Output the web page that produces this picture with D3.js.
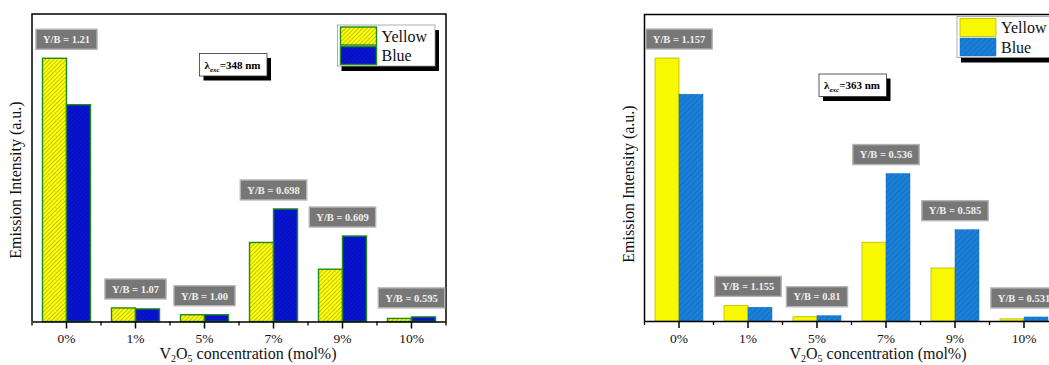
<!DOCTYPE html>
<html>
<head>
<meta charset="utf-8">
<script src="https://cdn.jsdelivr.net/npm/d3@7"></script>
<style>
  html, body { margin: 0; padding: 0; background: #fff; }
  svg text { font-family: "Liberation Serif", "Times New Roman", serif !important; }
</style>
</head>
<body>
<svg id="chart" width="1049" height="365"></svg>
<script>
// Dopant concentrations shared by both panels
const categories = ["0%", "1%", "5%", "7%", "9%", "10%"];
const seriesNames = ["Yellow", "Blue"];

// Panel A: excitation at 348 nm (emission intensity, arbitrary units)
const yellowA = [85.6, 4.4, 2.2, 25.7, 17.0, 1.0];
const blueA   = [70.5, 4.1, 2.2, 36.6, 27.8, 1.5];
const ratioA  = ["1.21", "1.07", "1.00", "0.698", "0.609", "0.595"];

// Panel B: excitation at 363 nm
const yellowB = [85.8, 5.1, 1.4, 25.7, 17.3, 0.7];
const blueB   = [74.0, 4.5, 1.73, 48.1, 29.8, 1.32];
const ratioB  = ["1.157", "1.155", "0.81", "0.536", "0.585", "0.531"];

const excA = "348";
const excB = "363";

const SERIF = "'Liberation Serif', 'Times New Roman', serif";

const svg = d3.select("#chart");
const defs = svg.append("defs");

// Diagonal hatch fills
function hatch(id, bg, line, spacing, width) {
  const p = defs.append("pattern")
    .attr("id", id)
    .attr("patternUnits", "userSpaceOnUse")
    .attr("width", spacing).attr("height", spacing)
    .attr("patternTransform", "rotate(45)");
  p.append("rect").attr("width", spacing).attr("height", spacing).attr("fill", bg);
  p.append("line").attr("x1", 0).attr("y1", 0).attr("x2", 0).attr("y2", spacing)
    .attr("stroke", line).attr("stroke-width", width);
}
hatch("hatchYellowA", "#ffff10", "#7a7a00", 3, 0.9);
hatch("hatchBlueA", "#0a14d8", "#000a70", 3, 0.9);
hatch("hatchBlueB", "#1a80d8", "#0b5aa8", 4, 0.9);

const styles = {
  A: {
    Yellow: { fill: "url(#hatchYellowA)", stroke: "#1f8a1f", sw: 1.4 },
    Blue:   { fill: "url(#hatchBlueA)",   stroke: "#1f8a1f", sw: 1.4 },
    legendStroke: "#9a9a9a"
  },
  B: {
    Yellow: { fill: "#f8f800", stroke: "#b8b800", sw: 0.8 },
    Blue:   { fill: "url(#hatchBlueB)",   stroke: "#1a70c0", sw: 0.5 },
    legendStroke: "#9a9a9a"
  }
};

const panels = [
  { key: "A", x0: 32, x1: 446, top: 14, base: 321.5,
    yellow: yellowA, blue: blueA, ratio: ratioA, exc: excA,
    lambdaPos: [199.5, 53.5], legendPos: [337.5, 25], ylabelPos: [21, 180], xlabelX: 248 },
  { key: "B", x0: 644.5, x1: 1058.5, top: 14.5, base: 321,
    yellow: yellowB, blue: blueB, ratio: ratioB, exc: excB,
    lambdaPos: [819, 74], legendPos: [957, 16.5], ylabelPos: [634, 184], xlabelX: 878 }
];

panels.forEach(drawPanel);

function drawPanel(P) {
  const st = styles[P.key];
  const g = svg.append("g");

  const x = d3.scaleBand().domain(categories).range([P.x0, P.x1]).paddingInner(0).paddingOuter(0);
  const sub = d3.scaleBand().domain(seriesNames).range([0, x.bandwidth()])
    .paddingInner(0).paddingOuter(0.4375);
  const y = d3.scaleLinear().domain([0, 100]).range([P.base, P.top]);

  const rows = categories.map((c, i) => ({
    cat: c,
    vals: [{ s: "Yellow", v: P.yellow[i] }, { s: "Blue", v: P.blue[i] }],
    ratio: P.ratio[i]
  }));

  // Frame (top, left, right)
  g.append("path")
    .attr("d", `M${P.x0},${P.base}V${P.top}H${P.x1}V${P.base}`)
    .attr("fill", "none").attr("stroke", "#000").attr("stroke-width", 1.5);

  // Bars
  const groups = g.selectAll("g.grp").data(rows).join("g")
    .attr("class", "grp")
    .attr("transform", d => `translate(${x(d.cat)},0)`);
  groups.selectAll("rect").data(d => d.vals).join("rect")
    .attr("x", d => sub(d.s))
    .attr("y", d => y(d.v))
    .attr("width", sub.bandwidth())
    .attr("height", d => y(0) - y(d.v))
    .attr("fill", d => st[d.s].fill)
    .attr("stroke", d => st[d.s].stroke)
    .attr("stroke-width", d => st[d.s].sw);

  // X axis with major ticks at categories
  const ax = g.append("g")
    .attr("transform", `translate(0,${P.base})`)
    .call(d3.axisBottom(x).tickSize(7).tickPadding(5).tickSizeOuter(0));
  ax.attr("font-family", SERIF).attr("font-size", 13.5);
  ax.select(".domain").attr("stroke-width", 1.5);
  ax.selectAll(".tick line").attr("stroke-width", 1.5);
  ax.selectAll(".tick text").style("font-family", SERIF).style("font-size", "13.5px").attr("fill", "#111");

  // Minor ticks at category boundaries
  const bounds = categories.map(c => x(c)).concat([P.x1]);
  g.append("g").selectAll("line").data(bounds).join("line")
    .attr("x1", d => d).attr("x2", d => d)
    .attr("y1", P.base).attr("y2", P.base + 4)
    .attr("stroke", "#000").attr("stroke-width", 1.3);

  // Y/B ratio tags
  const tags = g.append("g").selectAll("g").data(rows).join("g");
  tags.each(function (d) {
    const t = d3.select(this);
    const cx = x(d.cat) + x.bandwidth() / 2;
    const peak = y(d3.max(d.vals, v => v.v));
    const h = 20, bottom = peak - 9;
    const rect = t.append("rect");
    const txt = t.append("text")
      .attr("x", cx).attr("y", bottom - h / 2 + 3.8)
      .attr("text-anchor", "middle")
      .style("font-family", SERIF).style("font-size", "10.5px").style("font-weight", "bold")
      .attr("fill", "#f0f0f0")
      .text(`Y/B = ${d.ratio}`);
    const w = txt.node().getComputedTextLength() + 14;
    rect.attr("x", cx - w / 2).attr("y", bottom - h).attr("width", w).attr("height", h)
      .attr("fill", "#777").attr("stroke", "#b4b4b4").attr("stroke-width", 1.4);
  });

  // Excitation wavelength box with drop shadow
  const [lx, ly] = P.lambdaPos;
  const lw = 67.5, lh = 22.5;
  g.append("rect").attr("x", lx + 4).attr("y", ly + 4.5).attr("width", lw).attr("height", lh).attr("fill", "#000");
  g.append("rect").attr("x", lx).attr("y", ly).attr("width", lw).attr("height", lh)
    .attr("fill", "#fff").attr("stroke", "#333").attr("stroke-width", 0.8);
  const lt = g.append("text").attr("x", lx + 5).attr("y", ly + 15)
    .style("font-family", SERIF).style("font-size", "11px").style("font-weight", "bold").attr("fill", "#000");
  lt.append("tspan").text("λ");
  lt.append("tspan").attr("dy", 3).style("font-size", "7px").style("font-style", "italic").text("exc");
  lt.append("tspan").attr("dy", -3).text(`=${P.exc} nm`);

  // Legend with drop shadow
  const [gx, gy] = P.legendPos;
  const gw = 97.5, gh = 41;
  g.append("rect").attr("x", gx + 4).attr("y", gy + 5).attr("width", gw).attr("height", gh).attr("fill", "#000");
  g.append("rect").attr("x", gx).attr("y", gy).attr("width", gw).attr("height", gh)
    .attr("fill", "#fff").attr("stroke", st.legendStroke).attr("stroke-width", 0.8);
  seriesNames.forEach((s, i) => {
    const sy = gy + 2 + i * 19.5;
    g.append("rect").attr("x", gx + 3).attr("y", sy).attr("width", 36).attr("height", 18)
      .attr("fill", st[s].fill).attr("stroke", st[s].stroke).attr("stroke-width", st[s].sw);
    g.append("text").attr("x", gx + 44).attr("y", sy + 14.5)
      .style("font-family", SERIF).style("font-size", "16px").attr("fill", "#111").text(s);
  });

  // Axis titles
  g.append("text")
    .attr("transform", `translate(${P.ylabelPos[0]},${P.ylabelPos[1]}) rotate(-90)`)
    .attr("text-anchor", "middle")
    .style("font-family", SERIF).style("font-size", "16px").attr("fill", "#111")
    .text("Emission Intensity (a.u.)");

  const xt = g.append("text").attr("x", P.xlabelX).attr("y", 358.5)
    .attr("text-anchor", "middle")
    .style("font-family", SERIF).style("font-size", "16px").attr("fill", "#111");
  xt.append("tspan").text("V");
  xt.append("tspan").attr("dy", 3).style("font-size", "10px").text("2");
  xt.append("tspan").attr("dy", -3).text("O");
  xt.append("tspan").attr("dy", 3).style("font-size", "10px").text("5");
  xt.append("tspan").attr("dy", -3).text(" concentration (mol%)");
}
</script>
</body>
</html>
